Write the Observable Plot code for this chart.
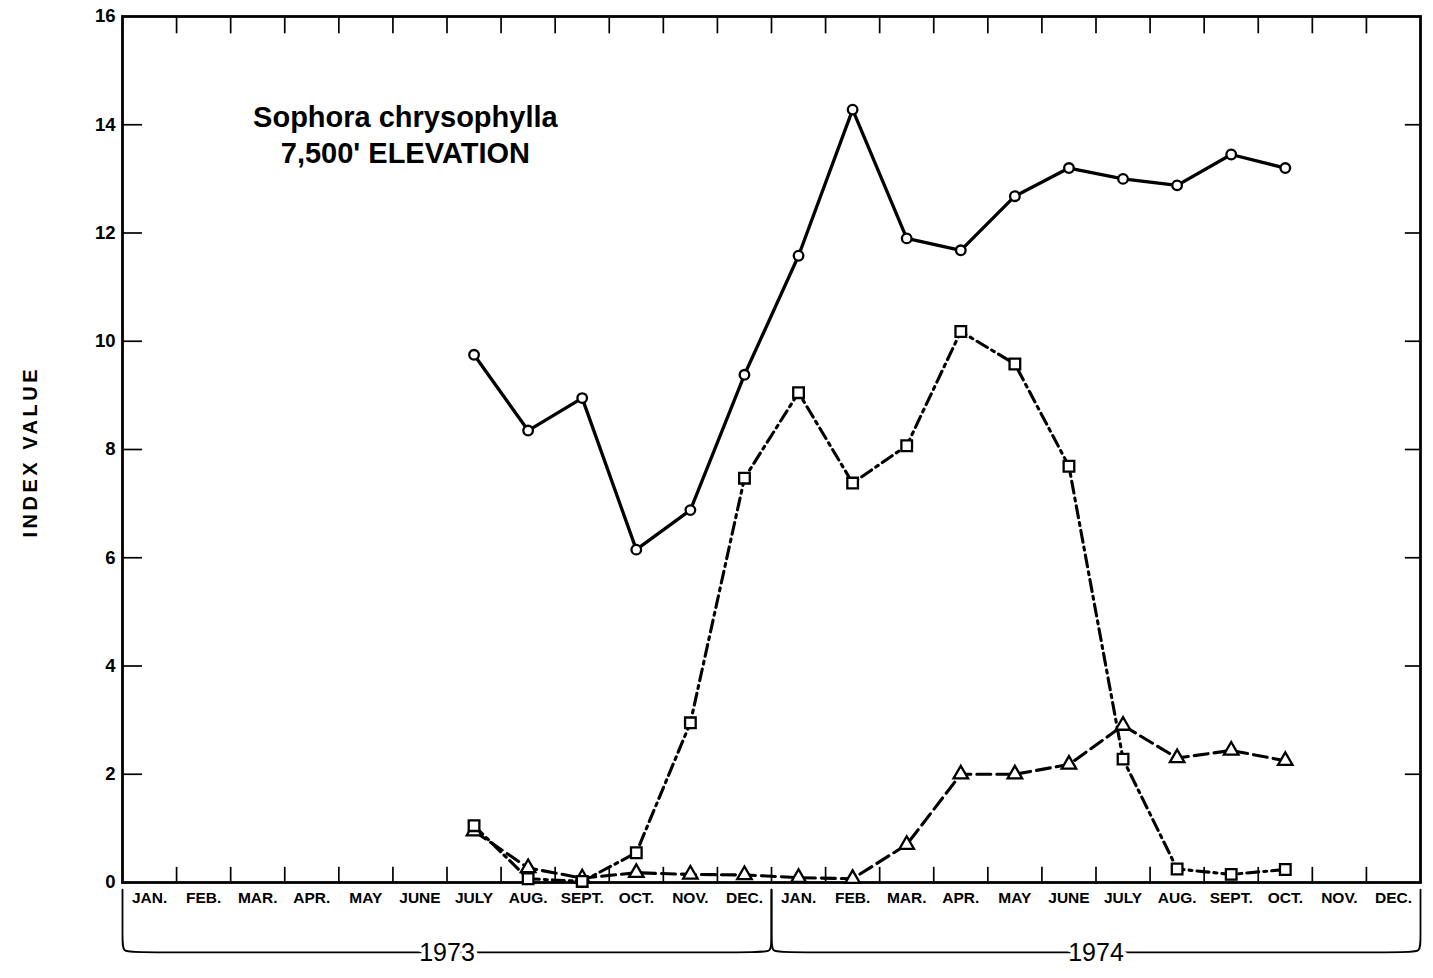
<!DOCTYPE html>
<html><head><meta charset="utf-8">
<script src="https://cdn.jsdelivr.net/npm/d3@7"></script>
<script src="https://cdn.jsdelivr.net/npm/@observablehq/plot@0.6"></script>
<style>
html,body{margin:0;padding:0;background:#fff;}
#chart svg{display:block;}
</style></head><body><div id="chart"></div>
<script>
// ---- data ----
const monthLabels = ["JAN.","FEB.","MAR.","APR.","MAY","JUNE","JULY","AUG.","SEPT.","OCT.","NOV.","DEC.",
                     "JAN.","FEB.","MAR.","APR.","MAY","JUNE","JULY","AUG.","SEPT.","OCT.","NOV.","DEC."];
const years = ["1973","1974"];
// month index (0 = Jan 1973) of each sample, July 1973 .. Oct 1974
const sampleMonths = [6,7,8,9,10,11,12,13,14,15,16,17,18,19,20,21];
const circleValues   = [9.75,8.35,8.95,6.15,6.88,9.38,11.58,14.28,11.9,11.68,12.68,13.2,13.0,12.88,13.45,13.2];
const squareValues   = [1.05,0.07,0.02,0.55,2.95,7.47,9.05,7.38,8.07,10.18,9.58,7.69,2.28,0.25,0.15,0.24];
const triangleValues = [0.95,0.27,0.08,0.18,0.15,0.14,0.09,0.07,0.7,2.0,2.0,2.18,2.9,2.3,2.44,2.25];
const yTicks = [0,2,4,6,8,10,12,14,16];
const titleText = "Sophora chrysophylla\n7,500' ELEVATION";
const yLabel = "INDEX VALUE";

// ---- tables ----
const rows = sampleMonths.map((m, i) => ({
  m: m + 0.5, circle: circleValues[i], square: squareValues[i], triangle: triangleValues[i]
}));
const boundaries = d3.range(1, monthLabels.length);
const months = monthLabels.map((label, i) => ({label, x: i + 0.5}));
const yearSpans = years.map((year, i) => ({year, start: i * 12, end: i * 12 + 12}));
const bTop = -0.13, bBot = -1.29, bR = 0.24, bRx = 0.24;
const bracketPts = yearSpans.flatMap(({year, start: s, end: e}) =>
  [[s, bTop], [s, bBot + bR], [s, bBot], [s + bRx, bBot], [e - bRx, bBot], [e, bBot], [e, bBot + bR], [e, bTop]]
    .map(([x, y]) => ({year, x, y})));

const font = "'Liberation Sans', Arial, sans-serif";

const plot = Plot.plot({
  width: 1433, height: 978,
  marginLeft: 122, marginRight: 13, marginTop: 16, marginBottom: 96,
  x: {domain: [0, 24], axis: null},
  y: {domain: [0, 16], axis: null},
  style: {fontFamily: font, background: "white", color: "black", overflow: "visible"},
  marks: [
    // inward tick marks
    Plot.ruleX(boundaries, {x: d => d, y1: 0, y2: 0.28, stroke: "black", strokeWidth: 1.7}),
    Plot.ruleX(boundaries, {x: d => d, y1: 16, y2: 15.68, stroke: "black", strokeWidth: 1.7}),
    Plot.ruleY(yTicks.slice(1, -1), {y: d => d, x1: 0, x2: 0.37, stroke: "black", strokeWidth: 1.7}),
    Plot.ruleY(yTicks.slice(1, -1), {y: d => d, x1: 23.72, x2: 24, stroke: "black", strokeWidth: 1.7}),
    Plot.frame({stroke: "black", strokeWidth: 2.8}),
    // y tick labels
    Plot.text(yTicks, {x: 0, y: d => d, text: d => String(d), textAnchor: "end", dx: -7,
      fontSize: 18.5, fontWeight: "bold"}),
    // y label
    Plot.text([yLabel], {frameAnchor: "left", textAnchor: "middle", dx: -92, dy: 4, rotate: -90, text: d => d,
      fontSize: 20, fontWeight: "bold"}),
    // month labels
    Plot.text(months, {x: "x", y: 0, text: "label", dy: 16, fontSize: 15.5, fontWeight: "bold"}),
    // year brackets
    Plot.line(bracketPts, {x: "x", y: "y", z: "year", curve: "basis", stroke: "black", strokeWidth: 1.8}),
    Plot.text(yearSpans, {x: d => (d.start + d.end) / 2, y: bBot, dy: 1, text: "year", fontSize: 25,
      fill: "black", stroke: "white", strokeWidth: 8}),
    // title
    Plot.text([titleText], {x: 5.23, y: 13.84, text: d => d, fontSize: 29, fontWeight: "bold",
      lineHeight: 1.24}),
    // series lines
    Plot.line(rows, {x: "m", y: "circle", stroke: "black", strokeWidth: 3.3}),
    Plot.line(rows, {x: "m", y: "square", stroke: "black", strokeWidth: 3.1, strokeDasharray: "12,5,3,5"}),
    Plot.line(rows, {x: "m", y: "triangle", stroke: "black", strokeWidth: 3.1, strokeDasharray: "14,6"}),
    // markers
    Plot.dot(rows, {x: "m", y: "triangle", symbol: "triangle", r: 5.4, fill: "white", stroke: "black", strokeWidth: 2.3}),
    Plot.dot(rows, {x: "m", y: "square", symbol: "square", r: 6, fill: "white", stroke: "black", strokeWidth: 2.3}),
    Plot.dot(rows, {x: "m", y: "circle", symbol: "circle", r: 4.8, fill: "white", stroke: "black", strokeWidth: 2.3})
  ]
});
plot.querySelectorAll("text").forEach(t => {
  if (t.textContent === yLabel) {
    t.setAttribute("textLength", "168");
    t.setAttribute("lengthAdjust", "spacing");
  }
});
document.getElementById("chart").appendChild(plot);
</script>
</body></html>
